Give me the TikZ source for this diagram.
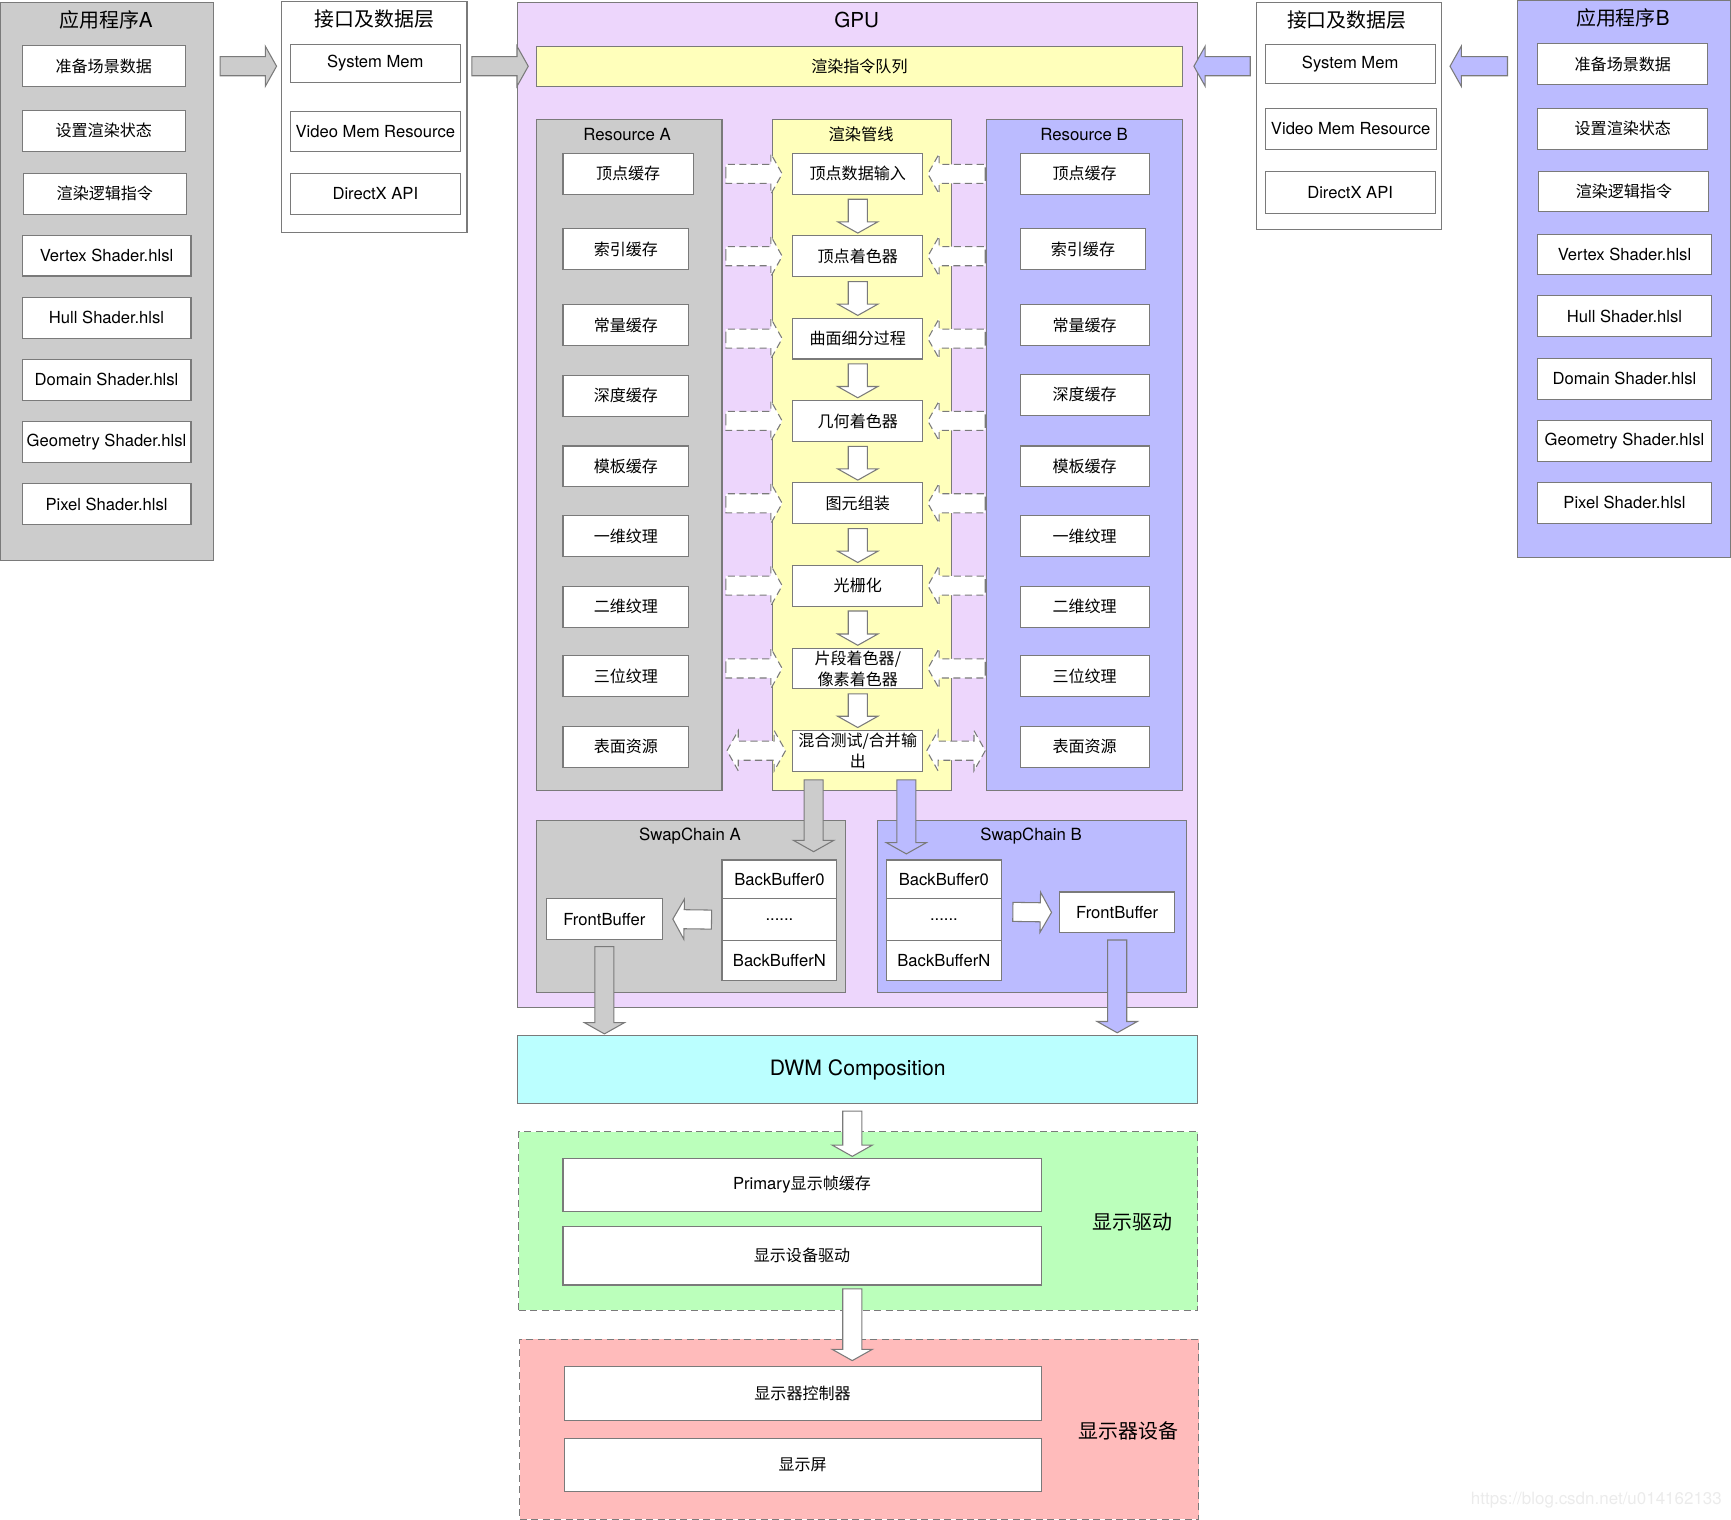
\documentclass[tikz,border=0pt]{standalone}
\usepackage{fontspec}
\setmainfont{TeX Gyre Heros}[Scale=1.035]
\newfontfamily\cjkfont{Noto Sans CJK SC}
\newcommand\zh[1]{{\cjkfont #1}}
\usetikzlibrary{calc, positioning}
\definecolor{edge}{HTML}{7A7A7A}
\definecolor{appgray}{HTML}{CCCCCC}
\definecolor{applav}{HTML}{BBBBFF}
\definecolor{gpubg}{HTML}{EDD6FC}
\definecolor{pipeyel}{HTML}{FFFFBB}
\definecolor{dwmcyan}{HTML}{BBFFFF}
\definecolor{drvgreen}{HTML}{BBFFBB}
\definecolor{disppink}{HTML}{FFBBBB}
\def\arrbody{5.4pt}
\def\arrhead{11.4pt}
\def\arrtip{6.4pt}

\begin{document}
\begin{tikzpicture}[
    x=0.022cm, y=-0.022cm,
    every node/.style={font=\fontsize{9.1}{11}\selectfont, inner sep=0pt},
    sz/.style 2 args={minimum width=#1*0.022cm, minimum height=#2*0.022cm},
    grp/.style={draw=edge, line width=0.6pt},
    cell/.style={draw=edge, fill=white, line width=0.6pt, align=center},
    ttl/.style={font=\fontsize{11.3}{13}\selectfont},
    sub/.style={font=\fontsize{9.2}{11}\selectfont},
    barrow/.style={draw=edge, line width=0.6pt, to path={
        -- ($(\tikztostart)!\arrbody!90:(\tikztotarget)$)
        -- ($($(\tikztotarget)!\arrtip!(\tikztostart)$)!\arrbody!90:(\tikztotarget)$)
        -- ($($(\tikztotarget)!\arrtip!(\tikztostart)$)!\arrhead!90:(\tikztotarget)$)
        -- (\tikztotarget)
        -- ($($(\tikztotarget)!\arrtip!(\tikztostart)$)!\arrhead!-90:(\tikztotarget)$)
        -- ($($(\tikztotarget)!\arrtip!(\tikztostart)$)!\arrbody!-90:(\tikztotarget)$)
        -- ($(\tikztostart)!\arrbody!-90:(\tikztotarget)$)
        -- cycle}},
    dbarrow/.style={draw=edge, line width=0.6pt, to path={
        -- ($($(\tikztostart)!\arrtip!(\tikztotarget)$)!\arrhead!90:(\tikztotarget)$)
        -- ($($(\tikztostart)!\arrtip!(\tikztotarget)$)!\arrbody!90:(\tikztotarget)$)
        -- ($($(\tikztotarget)!\arrtip!(\tikztostart)$)!\arrbody!90:(\tikztotarget)$)
        -- ($($(\tikztotarget)!\arrtip!(\tikztostart)$)!\arrhead!90:(\tikztotarget)$)
        -- (\tikztotarget)
        -- ($($(\tikztotarget)!\arrtip!(\tikztostart)$)!\arrhead!-90:(\tikztotarget)$)
        -- ($($(\tikztotarget)!\arrtip!(\tikztostart)$)!\arrbody!-90:(\tikztotarget)$)
        -- ($($(\tikztostart)!\arrtip!(\tikztotarget)$)!\arrbody!-90:(\tikztotarget)$)
        -- ($($(\tikztostart)!\arrtip!(\tikztotarget)$)!\arrhead!-90:(\tikztotarget)$)
        -- cycle}},
    ghost/.style={barrow, fill=white, dashed, dash pattern=on 4pt off 2.5pt},
    dghost/.style={dbarrow, fill=white, dashed, dash pattern=on 4pt off 2.5pt}
]
    \useasboundingbox (0,0) rectangle (1568,1376);

    % application A
    \node[grp, fill=appgray, sz={193}{506}] (appA) at (96.5,255) {};
    \node[ttl] (appAt) at (96,18) {\zh{应用程序}A};
    \foreach \n/\x/\y/\w/\t in {1/94/60/148/\zh{准备场景数据}, 2/94/118.5/148/\zh{设置渲染状态},
        3/95/175.5/148/\zh{渲染逻辑指令}, 4/96.5/231.5/153/Vertex Shader.hlsl,
        5/96.5/288/153/Hull Shader.hlsl, 6/96.5/344/153/Domain Shader.hlsl,
        7/96.5/400.5/153/Geometry Shader.hlsl, 8/96.5/456.5/153/Pixel Shader.hlsl}
        \node[cell, sz={\w}{37}] (appA\n) at (\x,\y) {\t};

    % interface layer A
    \node[grp, fill=white, sz={168}{210}] (ifA) at (339,106) {};
    \node[ttl] (ifAt) at (339,17) {\zh{接口及数据层}};
    \node[cell, sz={154}{35}] (sysA) at (340,57.5) {System Mem};
    \node[cell, sz={154}{36}] (vidA) at (340,119) {Video Mem Resource};
    \node[cell, sz={154}{37}] (dxA) at (340,175.5) {DirectX API};

    % GPU
    \node[grp, fill=gpubg, sz={616}{911}] (gpu) at (777,457.5) {};
    \node[ttl] (gput) at (776,18) {GPU};
    \node[grp, fill=pipeyel, sz={585}{36}] (queue) at (778.5,60) {\zh{渲染指令队列}};

    % interface layer B
    \node[grp, fill=white, sz={168}{206}] (ifB) at (1222,105) {};
    \node[ttl] (ifBt) at (1220,18) {\zh{接口及数据层}};
    \node[cell, sz={154}{36}] (sysB) at (1223,58) {System Mem};
    \node[cell, sz={155}{37}] (vidB) at (1223.5,116.5) {Video Mem Resource};
    \node[cell, sz={154}{38}] (dxB) at (1223,174) {DirectX API};

    % application B
    \node[grp, fill=applav, sz={193}{505}] (appB) at (1471.5,252.5) {};
    \node[ttl] (appBt) at (1470,16) {\zh{应用程序}B};
    \foreach \n/\x/\y/\w/\t in {1/1470/58/154/\zh{准备场景数据}, 2/1470/116.5/154/\zh{设置渲染状态},
        3/1471/173.5/154/\zh{渲染逻辑指令}, 4/1471.5/230.5/157/Vertex Shader.hlsl,
        5/1471.5/286.5/157/Hull Shader.hlsl, 6/1471.5/343/157/Domain Shader.hlsl,
        7/1471.5/399.5/157/Geometry Shader.hlsl, 8/1471.5/455.5/157/Pixel Shader.hlsl}
        \node[cell, sz={\w}{37}] (appB\n) at (\x,\y) {\t};

    % resources and pipeline
    \node[grp, fill=appgray, sz={168}{608}] (resA) at (570,412) {};
    \node[sub] (resAt) at (568,122) {Resource A};
    \node[grp, fill=pipeyel, sz={162}{608}] (pipe) at (781,412) {};
    \node[sub] (pipet) at (780,122) {\zh{渲染管线}};
    \node[grp, fill=applav, sz={177}{608}] (resB) at (982.5,412) {};
    \node[sub] (resBt) at (982,122) {Resource B};
    \foreach \n/\x/\y/\w/\t in {1/569/157.5/118/顶点缓存, 2/567/225.5/114/索引缓存,
        3/567/294.5/114/常量缓存, 4/567/358.5/114/深度缓存, 5/567/422.5/114/模板缓存,
        6/567/485.5/114/一维纹理, 7/567/549.5/114/二维纹理, 8/567/612.5/114/三位纹理,
        9/567/676.5/114/表面资源}
        \node[cell, sz={\w}{37}] (resA\n) at (\x,\y) {\zh{\t}};
    \foreach \n/\x/\y/\w/\t in {1/982.5/157.5/117/顶点缓存, 2/981/225.5/114/索引缓存,
        3/982.5/294.5/117/常量缓存, 4/982.5/357.5/117/深度缓存, 5/982.5/422.5/117/模板缓存,
        6/982.5/485.5/117/一维纹理, 7/982.5/549.5/117/二维纹理, 8/982.5/612.5/117/三位纹理,
        9/982.5/676.5/117/表面资源}
        \node[cell, sz={\w}{37}] (resB\n) at (\x,\y) {\zh{\t}};
    \foreach \n/\t in {1/顶点数据输入, 2/顶点着色器, 3/曲面细分过程, 4/几何着色器, 5/图元组装, 6/光栅化}
        \node[cell, sz={118}{37}] (p\n) at (777,{157.5+74.6*(\n-1)}) {\zh{\t}};
    \node[cell, sz={118}{37}, font=\fontsize{9.1}{12}\selectfont] (p7) at (777,605.5) {\zh{片段着色器/}\\\zh{像素着色器}};
    \node[cell, sz={118}{37}, font=\fontsize{9.1}{12}\selectfont] (p8) at (777,680) {\zh{混合测试/合并输}\\\zh{出}};

    % swap chains
    \node[grp, fill=appgray, sz={280}{156}] (swA) at (626,821) {};
    \node[sub] (swAt) at (625,757) {SwapChain A};
    \node[cell, sz={105}{37}] (fbA) at (547.5,832.5) {FrontBuffer};
    \node[cell, sz={104}{35}] (bbA0) at (706,796.5) {BackBuffer0};
    \node[cell, sz={104}{38}] (bbAd) at (706,833) {......};
    \node[cell, sz={104}{36}] (bbAn) at (706,870) {BackBufferN};
    \node[grp, fill=applav, sz={280}{156}] (swB) at (935,821) {};
    \node[sub] (swBt) at (934,757) {SwapChain B};
    \node[cell, sz={104}{35}] (bbB0) at (855,796.5) {BackBuffer0};
    \node[cell, sz={104}{38}] (bbBd) at (855,833) {......};
    \node[cell, sz={104}{36}] (bbBn) at (855,870) {BackBufferN};
    \node[cell, sz={104}{37}] (fbB) at (1012,826.5) {FrontBuffer};

    % composition and display
    \node[grp, fill=dwmcyan, sz={616}{62}, font=\fontsize{11.6}{14}\selectfont] (dwm) at (777,969) {DWM Composition};
    \node[grp, fill=drvgreen, dashed, dash pattern=on 4pt off 2.5pt, sz={615}{162}] (drv) at (777.5,1106) {};
    \node[ttl] (drvt) at (1026,1107) {\zh{显示驱动}};
    \node[cell, sz={433}{48}] (prim) at (726.5,1073) {Primary\zh{显示帧缓存}};
    \node[cell, sz={433}{53}] (devdrv) at (726.5,1137.5) {\zh{显示设备驱动}};
    \node[grp, fill=disppink, dashed, dash pattern=on 4pt off 2.5pt, sz={615}{163}] (disp) at (778.5,1294.5) {};
    \node[ttl] (dispt) at (1022,1296) {\zh{显示器设备}};
    \node[cell, sz={432}{49}] (ctrl) at (727,1262.5) {\zh{显示器控制器}};
    \node[cell, sz={432}{48}] (scr) at (727,1327) {\zh{显示屏}};

    % block arrows
    \draw[barrow, fill=appgray] ($(appA.east |- queue)+(6,0)$) to ($(ifA.west |- queue)+(-4,0)$);
    \draw[barrow, fill=appgray] ($(ifA.east |- queue)+(4,0)$) to ($(queue.west)+(-7,0)$);
    \draw[barrow, fill=applav] ($(appB.west |- queue)+(-9,0)$) to ($(ifB.east |- queue)+(7,0)$);
    \draw[barrow, fill=applav] ($(ifB.west |- queue)+(-5,0)$) to ($(queue.east)+(10,0)$);
    \foreach \i [count=\j from 2] in {1,...,7}
        \draw[barrow, fill=white] ($(p\i.south)+(0,4)$) to ($(p\j.north)+(0,-2)$);
    \foreach \i in {1,...,7} {
        \draw[ghost] ($(p\i.west)+(-60,0)$) to ($(p\i.west)+(-9,0)$);
        \draw[ghost] ($(p\i.east)+(56,0)$) to ($(p\i.east)+(4,0)$);
    }
    \draw[dghost] ($(p8.west)+(-59,0)$) to ($(p8.west)+(-6,0)$);
    \draw[dghost] ($(p8.east)+(3,0)$) to ($(p8.east)+(56,0)$);
    \draw[barrow, fill=appgray] ($(pipe.south)+(-44,-10)$) to ($(pipe.south)+(-44,55)$);
    \draw[barrow, fill=applav] ($(pipe.south)+(40,-10)$) to ($(pipe.south)+(40,57)$);
    \draw[barrow, fill=white] ($(bbAd.west)+(-9,0)$) to ($(fbA.east)+(9,0)$);
    \draw[barrow, fill=white] ($(bbBd.east)+(10,-7)$) to ($(fbB.west)+(-7,0)$);
    \draw[barrow, fill=appgray] ($(fbA.south)+(0,6)$) to ($(fbA.south |- dwm.north)+(0,-1)$);
    \draw[barrow, fill=applav] ($(fbB.south)+(0,6)$) to ($(fbB.south |- dwm.north)+(0,-2)$);
    \draw[barrow, fill=white] ($(dwm.south)+(-5,6)$) to ($(dwm.south)+(-5,47)$);
    \draw[barrow, fill=white] ($(devdrv.south)+(45.5,3)$) to ($(devdrv.south)+(45.5,68)$);

    % watermark
    \node[anchor=east, text=black!8, font=\fontsize{9.3}{11}\selectfont] (wm) at (1560,1359) {https://blog.csdn.net/u014162133};
\end{tikzpicture}
\end{document}
